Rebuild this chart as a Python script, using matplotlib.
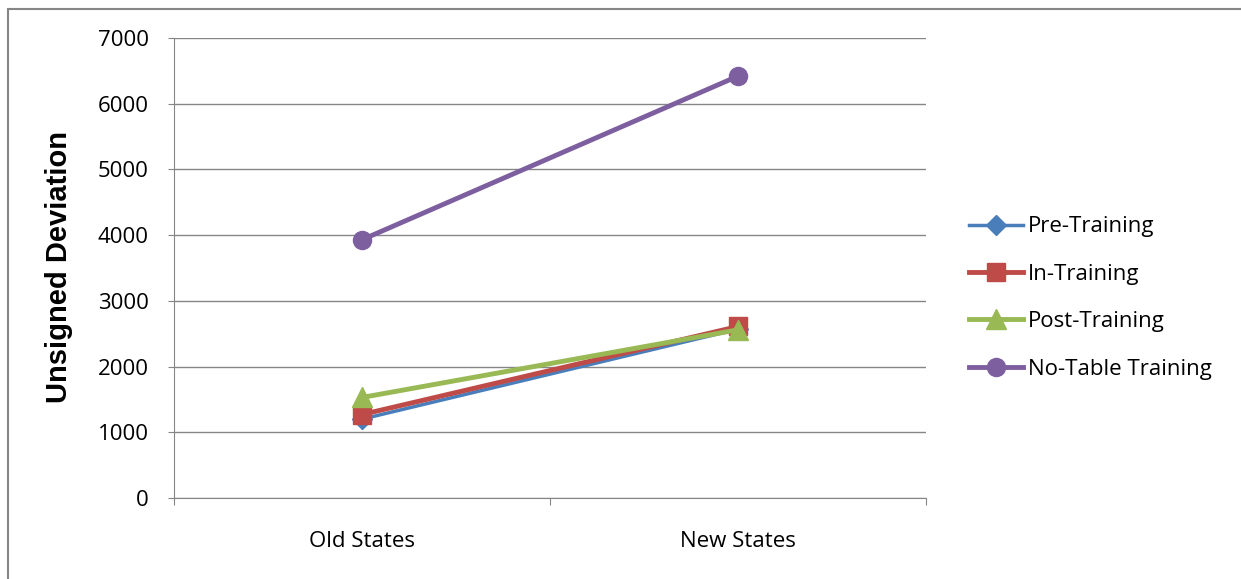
import matplotlib
matplotlib.use("Agg")
import matplotlib.pyplot as plt
from matplotlib.patches import Rectangle

categories = ["Old States", "New States"]
pre_training = [1200, 2570]
in_training = [1270, 2610]
post_training = [1530, 2560]
no_table = [3930, 6420]

plt.rcParams['font.family'] = ['Open Sans', 'DejaVu Sans']

fig = plt.figure(figsize=(12.41, 5.79), dpi=100)
ax = fig.add_axes([174/1241, 1-498/579, 752/1241, 460/579])

x = [0.5, 1.5]
ax.plot(x, pre_training, color="#4a7ebb", lw=2.5, marker="D", ms=10, label="Pre-Training")
ax.plot(x, in_training, color="#be4b48", lw=3.5, marker="s", ms=13, label="In-Training")
ax.plot(x, post_training, color="#98b954", lw=3.5, marker="^", ms=15, label="Post-Training")
ax.plot(x, no_table, color="#7d5fa0", lw=3.5, marker="o", ms=13, label="No-Table Training")

ax.set_xlim(0, 2)
ax.set_ylim(0, 7000)
ax.set_yticks(range(0, 7001, 1000))
ax.set_xticks([0, 1, 2])
ax.set_xticklabels([])
ax.set_xticks(x, minor=True)
ax.set_xticklabels(categories, minor=True)
ax.tick_params(axis="x", which="minor", length=0, labelsize=16, pad=24)
ax.tick_params(axis="x", which="major", length=5, color="#868686", direction="out")
ax.tick_params(axis="y", length=4.3, color="#868686", labelsize=16, pad=14)
ax.grid(axis="y", color="#868686", lw=1)
ax.set_axisbelow(True)
for s in ["top", "right"]:
    ax.spines[s].set_visible(False)
ax.spines["left"].set_color("#868686")
ax.spines["bottom"].set_color("#868686")
ax.set_ylabel("Unsigned Deviation", fontsize=21, fontweight="bold", family=["Liberation Sans", "DejaVu Sans"])
ax.yaxis.set_label_coords(73/1241, 1-267/579, transform=fig.transFigure)

ax.legend(loc="center left", bbox_to_anchor=(949/1241, 1-298/579), bbox_transform=fig.transFigure,
          frameon=False, fontsize=16, handlelength=2.45, labelspacing=1.19, handletextpad=0.2)

fig.patches.append(Rectangle((8/1241, -10/579), 1240/1241, 580/579, transform=fig.transFigure,
                             fill=False, edgecolor="#868686", lw=1.5))

fig.savefig("out.png", dpi=100)
